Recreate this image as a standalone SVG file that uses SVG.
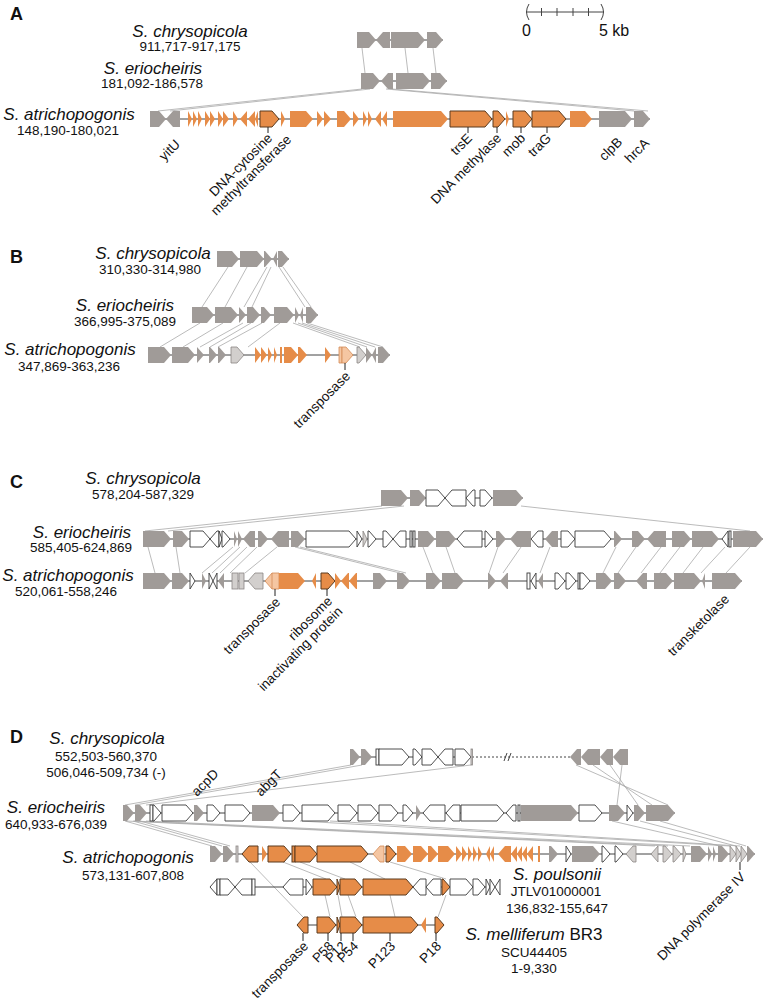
<svg xmlns="http://www.w3.org/2000/svg" width="766" height="1000" viewBox="0 0 766 1000">
<style>
text{font-family:"Liberation Sans",Arial,sans-serif;fill:#111}
.g{fill:#a09b98}
.o{fill:#e68c48}
.oo{fill:#e68c48;stroke:#5a3a1e;stroke-width:1}
.lo{fill:#f5c6a2;stroke:#d38a55;stroke-width:.8}
.lg{fill:#d2cfcd;stroke:#8a8684;stroke-width:.8}
.w{fill:#fff;stroke:#3a3a3a;stroke-width:.9}
.bb{stroke:#444;stroke-width:1;fill:none}
.cn{stroke:#a9a9a9;stroke-width:.8;fill:none}
.tk{stroke:#222;stroke-width:1}
.sp{font-style:italic;font-size:17px;text-anchor:middle}
.nm{font-size:13.5px;text-anchor:middle}
.lb{font-size:13.5px;text-anchor:end}
.pl{font-weight:bold;font-size:18px}
</style>
<rect width="766" height="1000" fill="#fff"/>

<g id="connectors">
<line class="cn" x1="362" y1="48" x2="365" y2="73"/>
<line class="cn" x1="405" y1="48" x2="408" y2="73"/>
<line class="cn" x1="433" y1="48" x2="436" y2="73"/>
<line class="cn" x1="362" y1="89" x2="158" y2="111"/>
<line class="cn" x1="370" y1="89" x2="170" y2="111"/>
<line class="cn" x1="386" y1="89" x2="634" y2="111"/>
<line class="cn" x1="392" y1="89" x2="648" y2="111"/>

<line class="cn" x1="228" y1="267" x2="202" y2="307"/>
<line class="cn" x1="247" y1="267" x2="225" y2="307"/>
<line class="cn" x1="267" y1="267" x2="244" y2="307"/>
<line class="cn" x1="271" y1="267" x2="252" y2="307"/>
<line class="cn" x1="279" y1="267" x2="305" y2="307"/>
<line class="cn" x1="283" y1="267" x2="311" y2="307"/>
<line class="cn" x1="200" y1="323" x2="160" y2="347"/>
<line class="cn" x1="223" y1="323" x2="183" y2="347"/>
<line class="cn" x1="243" y1="323" x2="200" y2="347"/>
<line class="cn" x1="251" y1="323" x2="210" y2="347"/>
<line class="cn" x1="262" y1="323" x2="218" y2="347"/>
<line class="cn" x1="280" y1="323" x2="248" y2="347"/>
<line class="cn" x1="293" y1="323" x2="360" y2="347"/>
<line class="cn" x1="298" y1="323" x2="367" y2="347"/>
<line class="cn" x1="302" y1="323" x2="375" y2="347"/>
<line class="cn" x1="307" y1="323" x2="383" y2="347"/>

<line class="cn" x1="382" y1="506" x2="145" y2="531"/>
<line class="cn" x1="404" y1="506" x2="168" y2="531"/>
<line class="cn" x1="521" y1="506" x2="750" y2="531"/>
<line class="cn" x1="148" y1="547" x2="155" y2="573"/>
<line class="cn" x1="176" y1="547" x2="180" y2="573"/>
<line class="cn" x1="233" y1="547" x2="202" y2="573"/>
<line class="cn" x1="240" y1="547" x2="212" y2="573"/>
<line class="cn" x1="247" y1="547" x2="220" y2="573"/>
<line class="cn" x1="257" y1="547" x2="230" y2="573"/>
<line class="cn" x1="277" y1="547" x2="245" y2="573"/>
<line class="cn" x1="295" y1="547" x2="400" y2="573"/>
<line class="cn" x1="300" y1="547" x2="406" y2="573"/>
<line class="cn" x1="423" y1="547" x2="433" y2="573"/>
<line class="cn" x1="446" y1="547" x2="455" y2="573"/>
<line class="cn" x1="498" y1="547" x2="489" y2="573"/>
<line class="cn" x1="521" y1="547" x2="503" y2="573"/>
<line class="cn" x1="550" y1="547" x2="540" y2="573"/>
<line class="cn" x1="616" y1="547" x2="603" y2="573"/>
<line class="cn" x1="636" y1="547" x2="618" y2="573"/>
<line class="cn" x1="661" y1="547" x2="641" y2="573"/>
<line class="cn" x1="680" y1="547" x2="660" y2="573"/>
<line class="cn" x1="703" y1="547" x2="683" y2="573"/>
<line class="cn" x1="725" y1="547" x2="701" y2="573"/>
<line class="cn" x1="750" y1="547" x2="726" y2="573"/>

<line class="cn" x1="351" y1="765" x2="125" y2="805"/>
<line class="cn" x1="362" y1="765" x2="135" y2="805"/>
<line class="cn" x1="471" y1="765" x2="146" y2="805"/>
<line class="cn" x1="576" y1="765" x2="668" y2="805"/>
<line class="cn" x1="593" y1="765" x2="652" y2="805"/>
<line class="cn" x1="610" y1="765" x2="638" y2="805"/>
<line class="cn" x1="622" y1="765" x2="617" y2="805"/>
<line class="cn" x1="125" y1="821" x2="212" y2="846"/>
<line class="cn" x1="133" y1="821" x2="222" y2="846"/>
<line class="cn" x1="140" y1="821" x2="230" y2="846"/>
<line class="cn" x1="126" y1="821" x2="655" y2="846"/>
<line class="cn" x1="134" y1="821" x2="668" y2="846"/>
<line class="cn" x1="146" y1="821" x2="690" y2="846"/>
<line class="cn" x1="300" y1="821" x2="730" y2="846"/>
<line class="cn" x1="330" y1="821" x2="740" y2="846"/>
<line class="cn" x1="612" y1="821" x2="720" y2="846"/>
<line class="cn" x1="640" y1="821" x2="736" y2="846"/>
<line class="cn" x1="660" y1="821" x2="746" y2="846"/>
<line class="cn" x1="250" y1="862" x2="303" y2="917"/>
<line class="cn" x1="283" y1="862" x2="326" y2="879"/>
<line class="cn" x1="300" y1="862" x2="345" y2="879"/>
<line class="cn" x1="350" y1="862" x2="385" y2="879"/>
<line class="cn" x1="390" y1="862" x2="446" y2="879"/>
<line class="cn" x1="325" y1="895" x2="330" y2="917"/>
<line class="cn" x1="338" y1="895" x2="342" y2="917"/>
<line class="cn" x1="348" y1="895" x2="356" y2="917"/>
<line class="cn" x1="390" y1="895" x2="395" y2="917"/>
<line class="cn" x1="446" y1="895" x2="438" y2="917"/>
</g>

<g id="scalebar">
<line class="bb" x1="526" y1="12" x2="604" y2="12"/>
<path class="bb" d="M529,4 Q524,12 529,20 M601,4 Q606,12 601,20 M541.5,8 V16 M557,8 V16 M573,8 V16 M588.5,8 V16"/>
<text x="526.5" y="36" style="font-size:16px;text-anchor:middle">0</text>
<text x="599" y="36" style="font-size:16px">5 kb</text>
</g>

<g id="panelA">
<text class="pl" x="10" y="20">A</text>
<text class="sp" x="190" y="37">S. chrysopicola</text>
<text class="nm" x="190" y="51">911,717-917,175</text>
<text class="sp" x="153" y="74">S. eriocheiris</text>
<text class="nm" x="152" y="88">181,092-186,578</text>
<text class="sp" x="69" y="120">S. atrichopogonis</text>
<text class="nm" x="68" y="134.5">148,190-180,021</text>
<g id="A-chry" transform="translate(0,32)">
<line class="bb" x1="357" y1="8" x2="443" y2="8"/>
<polygon class="g" points="357,0 369,0 376,8 369,16 357,16"/>
<polygon class="g" points="376,8 383,0 390,0 390,16 383,16"/>
<polygon class="g" points="391,0 418,0 425,8 418,16 391,16"/>
<polygon class="g" points="427,0 436,0 443,8 436,16 427,16"/>
</g>
<g id="A-erio" transform="translate(0,73)">
<line class="bb" x1="361" y1="8" x2="447" y2="8"/>
<polygon class="g" points="361,0 373,0 380,8 373,16 361,16"/>
<polygon class="g" points="381,8 388,0 393,0 393,16 388,16"/>
<polygon class="g" points="396,0 423,0 430,8 423,16 396,16"/>
<polygon class="g" points="431,0 440,0 447,8 440,16 431,16"/>
</g>
<g id="A-atri" transform="translate(0,111)">
<line class="bb" x1="150" y1="8" x2="650" y2="8"/>
<polygon class="g" points="150,0 159,0 166,8 159,16 150,16"/>
<polygon class="g" points="166,8 173,0 180,0 180,16 173,16"/>
<polygon class="o" points="188,0 192,8 188,16"/>
<polygon class="o" points="193,0 197,8 193,16"/>
<polygon class="o" points="198,0 202,8 198,16"/>
<polygon class="o" points="205,0 210,8 205,16"/>
<polygon class="o" points="210,0 215,8 210,16"/>
<polygon class="o" points="218,0 223,8 218,16"/>
<polygon class="o" points="223,0 229,8 223,16"/>
<polygon class="o" points="233,0 238,8 233,16"/>
<polygon class="o" points="240,8 247,0 247,16"/>
<polygon class="o" points="248,8 255,0 255,16"/>
<polygon class="o" points="255,8 258,0 258,16"/>
<polygon class="oo" points="260,0 272,0 279,8 272,16 260,16"/>
<polygon class="o" points="281,0 285,8 281,16"/>
<polygon class="o" points="290,0 306,0 313,8 306,16 290,16"/>
<polygon class="o" points="317,0 323,8 317,16"/>
<polygon class="o" points="324,0 331,8 324,16"/>
<polygon class="o" points="337,0 344,0 351,8 344,16 337,16"/>
<polygon class="o" points="353,0 359,8 353,16"/>
<polygon class="o" points="363,0 367,8 363,16"/>
<polygon class="o" points="368,0 372,8 368,16"/>
<polygon class="o" points="375,8 381,0 381,16"/>
<polygon class="o" points="382,8 387,0 387,16"/>
<polygon class="o" points="393,0 441,0 448,8 441,16 393,16"/>
<polygon class="oo" points="450,0 485,0 492,8 485,16 450,16"/>
<polygon class="oo" points="493,0 498,0 505,8 498,16 493,16"/>
<polygon class="o" points="506,0 509,8 506,16"/>
<polygon class="oo" points="513,0 525,0 532,8 525,16 513,16"/>
<polygon class="oo" points="532,0 559,0 566,8 559,16 532,16"/>
<polygon class="o" points="570,0 585,0 592,8 585,16 570,16"/>
<polygon class="g" points="599,0 625,0 632,8 625,16 599,16"/>
<polygon class="g" points="634,0 643,0 650,8 643,16 634,16"/>
<path class="tk" d="M268,16 V22 M468,16 V22 M497,16 V22 M521,16 V22 M547,16 V22"/>
</g>
<text class="lb" transform="translate(181,145) rotate(-45)">yitU</text>
<text class="lb" transform="translate(273,139) rotate(-45)"><tspan x="0" y="0">DNA-cytosine</tspan><tspan x="12.5" y="14.5">methyltransferase</tspan></text>
<text class="lb" transform="translate(473,139) rotate(-45)">trsE</text>
<text class="lb" transform="translate(502,139) rotate(-45)">DNA methylase</text>
<text class="lb" transform="translate(526,139) rotate(-45)">mob</text>
<text class="lb" transform="translate(552,139) rotate(-45)">traG</text>
<text class="lb" transform="translate(623,143) rotate(-45)">clpB</text>
<text class="lb" transform="translate(650,144) rotate(-45)">hrcA</text>
</g>

<g id="panelB">
<text class="pl" x="10" y="263">B</text>
<text class="sp" x="153" y="259">S. chrysopicola</text>
<text class="nm" x="150" y="274">310,330-314,980</text>
<text class="sp" x="125" y="311">S. eriocheiris</text>
<text class="nm" x="125" y="326">366,995-375,089</text>
<text class="sp" x="70" y="355">S. atrichopogonis</text>
<text class="nm" x="69" y="371">347,869-363,236</text>
<g id="B-chry" transform="translate(0,251)">
<line class="bb" x1="217" y1="8" x2="289" y2="8"/>
<polygon class="g" points="217,0 232,0 239,8 232,16 217,16"/>
<polygon class="g" points="240,0 257,0 264,8 257,16 240,16"/>
<polygon class="g" points="264,0 265,0 272,8 265,16 264,16"/>
<polygon class="g" points="273,8 277,0 277,16"/>
<polygon class="g" points="278,0 282,0 289,8 282,16 278,16"/>
</g>
<g id="B-erio" transform="translate(0,307)">
<line class="bb" x1="192" y1="8" x2="318" y2="8"/>
<polygon class="g" points="192,0 207,0 214,8 207,16 192,16"/>
<polygon class="g" points="215,0 231,0 238,8 231,16 215,16"/>
<polygon class="g" points="239,0 246,8 239,16"/>
<polygon class="g" points="247,0 253,0 260,8 253,16 247,16"/>
<polygon class="g" points="261,0 264,0 271,8 264,16 261,16"/>
<polygon class="g" points="274,0 287,0 294,8 287,16 274,16"/>
<polygon class="g" points="295,0 299,8 295,16"/>
<polygon class="g" points="300,8 303,0 303,16"/>
<polygon class="g" points="306,0 311,0 318,8 311,16 306,16"/>
</g>
<g id="B-atri" transform="translate(0,347)">
<line class="bb" x1="148" y1="8" x2="390" y2="8"/>
<polygon class="g" points="148,0 164,0 171,8 164,16 148,16"/>
<polygon class="g" points="172,0 188,0 195,8 188,16 172,16"/>
<polygon class="g" points="197,0 204,8 197,16"/>
<polygon class="g" points="209,0 210,0 217,8 210,16 209,16"/>
<polygon class="g" points="218,0 219,0 226,8 219,16 218,16"/>
<polygon class="lg" points="231,0 237,0 244,8 237,16 231,16"/>
<polygon class="o" points="255,0 261,8 255,16"/>
<polygon class="o" points="261,0 267,8 261,16"/>
<polygon class="o" points="268,0 272,8 268,16"/>
<polygon class="o" points="274,0 277,8 274,16"/>
<polygon class="o" points="280,0 282,0 282,16 280,16"/>
<polygon class="o" points="284,0 291,0 298,8 291,16 284,16"/>
<polygon class="o" points="298,0 300,0 307,8 300,16 298,16"/>
<polygon class="o" points="325,0 331,8 325,16"/>
<polygon class="lo" points="339,0 342,0 342,16 339,16"/>
<polygon class="lo" points="342,0 346,0 353,8 346,16 342,16"/>
<polygon class="lg" points="357,0 359,0 366,8 359,16 357,16"/>
<polygon class="g" points="366,0 372,8 366,16"/>
<polygon class="g" points="372,8 376,0 376,16"/>
<polygon class="g" points="378,0 383,0 390,8 383,16 378,16"/>
<path class="tk" d="M345,16 V23"/>
</g>
<text class="lb" transform="translate(351,377) rotate(-45)">transposase</text>
</g>

<g id="panelC">
<text class="pl" x="10" y="488">C</text>
<text class="sp" x="143" y="484">S. chrysopicola</text>
<text class="nm" x="143" y="499">578,204-587,329</text>
<text class="sp" x="82" y="538">S. eriocheiris</text>
<text class="nm" x="81" y="552">585,405-624,869</text>
<text class="sp" x="68" y="581">S. atrichopogonis</text>
<text class="nm" x="66" y="596">520,061-558,246</text>
<g id="C-chry" transform="translate(0,490)">
<line class="bb" x1="381" y1="8" x2="523" y2="8"/>
<polygon class="g" points="381,0 401,0 408,8 401,16 381,16"/>
<polygon class="g" points="410,0 419,0 426,8 419,16 410,16"/>
<polygon class="w" points="426,0 438,0 445,8 438,16 426,16"/>
<polygon class="w" points="445,8 452,0 466,0 466,16 452,16"/>
<polygon class="w" points="466,8 473,0 475,0 475,16 473,16"/>
<polygon class="w" points="480,0 485,0 492,8 485,16 480,16"/>
<polygon class="g" points="493,0 516,0 523,8 516,16 493,16"/>
</g>
<g id="C-erio" transform="translate(0,531)">
<line class="bb" x1="143" y1="8" x2="763" y2="8"/>
<polygon class="g" points="143,0 164,0 171,8 164,16 143,16"/>
<polygon class="g" points="173,0 182,0 189,8 182,16 173,16"/>
<polygon class="w" points="190,0 203,0 210,8 203,16 190,16"/>
<polygon class="w" points="210,8 217,0 219,0 219,16 217,16"/>
<polygon class="w" points="219,0 222,8 219,16"/>
<polygon class="w" points="222,0 223,0 230,8 223,16 222,16"/>
<polygon class="g" points="234,0 237,8 234,16"/>
<polygon class="g" points="238,0 242,8 238,16"/>
<polygon class="g" points="243,8 250,0 255,0 255,16 250,16"/>
<polygon class="g" points="258,0 261,0 268,8 261,16 258,16"/>
<polygon class="g" points="271,8 278,0 289,0 289,16 278,16"/>
<polygon class="g" points="291,0 298,0 305,8 298,16 291,16"/>
<polygon class="w" points="306,0 349,0 356,8 349,16 306,16"/>
<polygon class="w" points="357,0 362,8 357,16"/>
<polygon class="lg" points="363,0 367,8 363,16"/>
<polygon class="w" points="368,0 369,0 376,8 369,16 368,16"/>
<polygon class="w" points="383,0 386,0 393,8 386,16 383,16"/>
<polygon class="w" points="393,8 400,0 406,0 406,16 400,16"/>
<rect class="w" x="410" y="0" width="2" height="16"/>
<rect class="w" x="413" y="0" width="2" height="16"/>
<polygon class="g" points="418,0 428,0 435,8 428,16 418,16"/>
<polygon class="g" points="436,0 449,0 456,8 449,16 436,16"/>
<polygon class="w" points="457,8 464,0 482,0 482,16 464,16"/>
<polygon class="w" points="485,0 486,0 493,8 486,16 485,16"/>
<polygon class="g" points="496,0 499,0 506,8 499,16 496,16"/>
<polygon class="g" points="510,8 517,0 531,0 531,16 517,16"/>
<polygon class="w" points="531,8 538,0 543,0 543,16 538,16"/>
<polygon class="g" points="545,8 552,0 558,0 558,16 552,16"/>
<polygon class="w" points="561,0 568,0 575,8 568,16 561,16"/>
<polygon class="w" points="575,0 604,0 611,8 604,16 575,16"/>
<polygon class="g" points="614,0 615,0 622,8 615,16 614,16"/>
<polygon class="g" points="632,0 638,0 645,8 638,16 632,16"/>
<polygon class="g" points="647,8 654,0 666,0 666,16 654,16"/>
<polygon class="g" points="672,0 684,0 691,8 684,16 672,16"/>
<polygon class="g" points="692,0 712,0 719,8 712,16 692,16"/>
<polygon class="w" points="722,8 728,0 728,16"/>
<rect class="w" x="729" y="0" width="2" height="16"/>
<polygon class="g" points="733,0 756,0 763,8 756,16 733,16"/>
</g>
<g id="C-atri" transform="translate(0,573)">
<line class="bb" x1="143" y1="8" x2="742" y2="8"/>
<polygon class="g" points="143,0 164,0 171,8 164,16 143,16"/>
<polygon class="g" points="172,0 182,0 189,8 182,16 172,16"/>
<polygon class="w" points="190,0 195,8 190,16"/>
<polygon class="g" points="202,0 206,8 202,16"/>
<polygon class="w" points="209,0 213,8 209,16"/>
<polygon class="w" points="213,8 217,0 217,16"/>
<polygon class="g" points="218,8 224,0 224,16"/>
<rect class="lg" x="232" y="0" width="6" height="16"/>
<rect class="lg" x="239" y="0" width="5" height="16"/>
<polygon class="lg" points="248,8 255,0 263,0 263,16 255,16"/>
<polygon class="lo" points="265,8 272,0 279,0 279,16 272,16"/>
<line class="lo" x1="272" y1="0" x2="272" y2="16"/>
<polygon class="o" points="279,0 298,0 305,8 298,16 279,16"/>
<polygon class="o" points="312,8 316,0 316,16"/>
<polygon class="oo" points="321,0 328,0 335,8 328,16 321,16"/>
<polygon class="o" points="335,0 341,8 335,16"/>
<polygon class="o" points="341,8 348,0 349,0 349,16 348,16"/>
<polygon class="o" points="349,8 356,0 357,0 357,16 356,16"/>
<polygon class="g" points="373,0 380,0 387,8 380,16 373,16"/>
<polygon class="g" points="397,0 403,0 410,8 403,16 397,16"/>
<polygon class="g" points="426,0 434,0 441,8 434,16 426,16"/>
<polygon class="g" points="442,0 457,0 464,8 457,16 442,16"/>
<polygon class="g" points="488,0 489,0 496,8 489,16 488,16"/>
<polygon class="g" points="500,8 507,0 508,0 508,16 507,16"/>
<rect class="w" x="527" y="0" width="3" height="16"/>
<polygon class="w" points="531,8 536,0 536,16"/>
<polygon class="g" points="538,8 543,0 543,16"/>
<polygon class="w" points="555,0 558,0 565,8 558,16 555,16"/>
<polygon class="w" points="566,0 569,0 576,8 569,16 566,16"/>
<rect class="w" x="578" y="0" width="2" height="16"/>
<polygon class="w" points="580,0 583,0 590,8 583,16 580,16"/>
<polygon class="g" points="596,0 605,0 612,8 605,16 596,16"/>
<polygon class="g" points="614,0 619,0 626,8 619,16 614,16"/>
<polygon class="g" points="636,8 643,0 647,0 647,16 643,16"/>
<polygon class="g" points="654,0 666,0 673,8 666,16 654,16"/>
<polygon class="g" points="674,0 694,0 701,8 694,16 674,16"/>
<polygon class="g" points="702,8 705,0 705,16"/>
<polygon class="g" points="712,0 735,0 742,8 735,16 712,16"/>
<path class="tk" d="M275,16 V23 M327,16 V23"/>
</g>
<text class="lb" transform="translate(281,603) rotate(-45)">transposase</text>
<text class="lb" transform="translate(333,602) rotate(-45)"><tspan x="0" y="0">ribosome</tspan><tspan x="0" y="14.5">inactivating protein</tspan></text>
<text class="lb" transform="translate(730,600) rotate(-45)">transketolase</text>
</g>

<g id="panelD">
<text class="pl" x="10" y="743">D</text>
<text class="sp" x="107" y="744">S. chrysopicola</text>
<text class="nm" x="106" y="761">552,503-560,370</text>
<text class="nm" x="106" y="777">506,046-509,734 (-)</text>
<text class="sp" x="56" y="813">S. eriocheiris</text>
<text class="nm" x="56" y="829">640,933-676,039</text>
<text class="sp" x="128" y="863">S. atrichopogonis</text>
<text class="nm" x="133" y="880">573,131-607,808</text>
<text class="sp" x="557" y="880">S. poulsonii</text>
<text class="nm" x="556" y="896">JTLV01000001</text>
<text class="nm" x="557" y="913">136,832-155,647</text>
<text x="534" y="940" style="font-size:17px;text-anchor:middle"><tspan font-style="italic">S. melliferum</tspan> BR3</text>
<text class="nm" x="534" y="957">SCU44405</text>
<text class="nm" x="534" y="973">1-9,330</text>
<text style="font-size:13.5px" transform="translate(197,797) rotate(-45)">acpD</text>
<text style="font-size:13.5px" transform="translate(261,797) rotate(-45)">abgT</text>
<g id="D-chry" transform="translate(0,749)">
<line class="bb" x1="350" y1="8" x2="472" y2="8"/>
<line class="bb" x1="472" y1="8" x2="570" y2="8" stroke-dasharray="2,2"/>
<path class="bb" d="M504,12 L507,4 M508,12 L511,4"/>
<polygon class="g" points="350,0 353,0 360,8 353,16 350,16"/>
<polygon class="g" points="361,0 365,0 372,8 365,16 361,16"/>
<rect class="w" x="376" y="0" width="3" height="16"/>
<polygon class="w" points="379,0 402,0 409,8 402,16 379,16"/>
<polygon class="w" points="413,0 415,0 422,8 415,16 413,16"/>
<polygon class="w" points="422,0 431,0 438,8 431,16 422,16"/>
<polygon class="w" points="438,8 445,0 453,0 453,16 445,16"/>
<polygon class="w" points="455,0 464,0 471,8 464,16 455,16"/>
<rect class="lg" x="471" y="0" width="1.5" height="16"/>
<polygon class="g" points="570,8 577,0 581,0 581,16 577,16"/>
<polygon class="g" points="581,8 588,0 600,0 600,16 588,16"/>
<polygon class="g" points="600,8 607,0 613,0 613,16 607,16"/>
<polygon class="g" points="613,8 620,0 628,0 628,16 620,16"/>
</g>
<g id="D-erio" transform="translate(0,805)">
<line class="bb" x1="123" y1="8" x2="675" y2="8"/>
<polygon class="g" points="123,0 127,0 134,8 127,16 123,16"/>
<polygon class="g" points="135,0 140,0 147,8 140,16 135,16"/>
<rect class="w" x="150" y="0" width="3" height="16"/>
<polygon class="w" points="153,0 154,0 161,8 154,16 153,16"/>
<polygon class="w" points="162,0 186,0 193,8 186,16 162,16"/>
<polygon class="g" points="194,0 197,0 204,8 197,16 194,16"/>
<polygon class="w" points="207,0 213,0 220,8 213,16 207,16"/>
<polygon class="w" points="225,0 243,0 250,8 243,16 225,16"/>
<polygon class="g" points="252,0 273,0 280,8 273,16 252,16"/>
<polygon class="w" points="283,0 293,0 300,8 293,16 283,16"/>
<polygon class="w" points="302,0 328,0 335,8 328,16 302,16"/>
<polygon class="w" points="338,0 350,0 357,8 350,16 338,16"/>
<polygon class="w" points="358,0 371,0 378,8 371,16 358,16"/>
<polygon class="w" points="379,0 391,0 398,8 391,16 379,16"/>
<polygon class="w" points="403,0 406,0 413,8 406,16 403,16"/>
<polygon class="g" points="416,0 421,8 416,16"/>
<polygon class="w" points="423,8 430,0 445,0 445,16 430,16"/>
<polygon class="w" points="446,8 453,0 460,0 460,16 453,16"/>
<polygon class="w" points="461,0 497,0 504,8 497,16 461,16"/>
<polygon class="w" points="506,8 513,0 516,0 516,16 513,16"/>
<rect class="w" x="518" y="0" width="2" height="16"/>
<polygon class="g" points="521,0 571,0 578,8 571,16 521,16"/>
<polygon class="w" points="579,0 595,0 602,8 595,16 579,16"/>
<polygon class="g" points="609,0 618,0 625,8 618,16 609,16"/>
<polygon class="w" points="627,0 633,8 627,16"/>
<polygon class="g" points="634,0 638,0 645,8 638,16 634,16"/>
<polygon class="g" points="646,0 668,0 675,8 668,16 646,16"/>
</g>
<g id="D-atri" transform="translate(0,846)">
<line class="bb" x1="210" y1="8" x2="755" y2="8"/>
<polygon class="g" points="210,0 215,0 222,8 215,16 210,16"/>
<polygon class="g" points="223,0 227,0 234,8 227,16 223,16"/>
<rect class="lg" x="236" y="0" width="2" height="16"/>
<polygon class="oo" points="242,8 249,0 258,0 258,16 249,16"/>
<polygon class="o" points="262,0 267,8 262,16"/>
<polygon class="oo" points="268,0 284,0 291,8 284,16 268,16"/>
<rect class="oo" x="292" y="0" width="3" height="16"/>
<polygon class="oo" points="295,0 310,0 317,8 310,16 295,16"/>
<polygon class="oo" points="317,0 361,0 368,8 361,16 317,16"/>
<polygon class="lo" points="373,8 380,0 384,0 384,16 380,16"/>
<polygon class="oo" points="386,0 389,0 396,8 389,16 386,16"/>
<polygon class="o" points="397,0 405,0 412,8 405,16 397,16"/>
<polygon class="o" points="413,0 421,0 428,8 421,16 413,16"/>
<polygon class="o" points="428,0 431,0 438,8 431,16 428,16"/>
<polygon class="o" points="438,0 448,0 455,8 448,16 438,16"/>
<polygon class="o" points="456,0 462,8 456,16"/>
<polygon class="o" points="462,0 467,8 462,16"/>
<polygon class="o" points="468,0 472,8 468,16"/>
<polygon class="o" points="473,0 477,8 473,16"/>
<polygon class="o" points="478,0 482,8 478,16"/>
<polygon class="o" points="486,8 490,0 490,16"/>
<polygon class="o" points="490,8 494,0 494,16"/>
<polygon class="o" points="498,8 505,0 511,0 511,16 505,16"/>
<polygon class="o" points="511,8 517,0 517,16"/>
<polygon class="o" points="517,8 522,0 522,16"/>
<polygon class="o" points="522,8 527,0 527,16"/>
<polygon class="o" points="527,8 533,0 533,16"/>
<rect class="o" x="538" y="0" width="2" height="16"/>
<polygon class="g" points="549,0 551,0 558,8 551,16 549,16"/>
<polygon class="w" points="566,0 571,8 566,16"/>
<polygon class="g" points="572,0 593,0 600,8 593,16 572,16"/>
<polygon class="w" points="602,0 603,0 610,8 603,16 602,16"/>
<polygon class="w" points="615,0 616,0 623,8 616,16 615,16"/>
<polygon class="lg" points="626,8 633,0 636,0 636,16 633,16"/>
<polygon class="lg" points="651,8 658,0 658,16"/>
<polygon class="lg" points="663,0 665,0 672,8 665,16 663,16"/>
<polygon class="lg" points="673,0 674,0 681,8 674,16 673,16"/>
<polygon class="lg" points="683,0 686,8 683,16"/>
<polygon class="g" points="691,0 700,0 707,8 700,16 691,16"/>
<polygon class="g" points="708,0 712,8 708,16"/>
<polygon class="g" points="713,0 716,8 713,16"/>
<polygon class="g" points="718,0 722,0 729,8 722,16 718,16"/>
<polygon class="lg" points="730,0 736,8 730,16"/>
<polygon class="lg" points="736,0 741,8 736,16"/>
<polygon class="lg" points="741,0 747,8 741,16"/>
<polygon class="g" points="747,0 748,0 755,8 748,16 747,16"/>
<path class="tk" d="M740,16 V24"/>
</g>
<text class="lb" transform="translate(746,878) rotate(-45)">DNA polymerase IV</text>
<g id="D-poul" transform="translate(0,879)">
<line class="bb" x1="210" y1="8" x2="500" y2="8"/>
<polygon class="w" points="210,8 217,0 217,16"/>
<rect class="w" x="217" y="0" width="3" height="16"/>
<polygon class="w" points="220,0 228,0 235,8 228,16 220,16"/>
<polygon class="w" points="235,8 242,0 252,0 252,16 242,16"/>
<rect class="w" x="252" y="0" width="3" height="16"/>
<polygon class="w" points="283,8 290,0 303,0 303,16 290,16"/>
<polygon class="w" points="306,0 312,8 306,16"/>
<polygon class="oo" points="313,0 330,0 337,8 330,16 313,16"/>
<polygon class="oo" points="337,0 340,8 337,16"/>
<polygon class="oo" points="340,0 355,0 362,8 355,16 340,16"/>
<polygon class="oo" points="363,0 406,0 413,8 406,16 363,16"/>
<polygon class="w" points="413,8 420,0 426,0 426,16 420,16"/>
<polygon class="w" points="426,8 433,0 441,0 441,16 433,16"/>
<polygon class="oo" points="442,0 443,0 450,8 443,16 442,16"/>
<polygon class="w" points="450,0 466,0 473,8 466,16 450,16"/>
<polygon class="w" points="473,0 478,0 485,8 478,16 473,16"/>
<polygon class="w" points="486,0 490,8 486,16"/>
<polygon class="w" points="490,0 495,8 490,16"/>
<polygon class="w" points="495,8 500,0 500,16"/>
</g>
<g id="D-mell" transform="translate(0,917)">
<line class="bb" x1="297" y1="8" x2="444" y2="8"/>
<polygon class="oo" points="297,8 304,0 308,0 308,16 304,16"/>
<polygon class="oo" points="317,0 329,0 336,8 329,16 317,16"/>
<polygon class="oo" points="337,0 340,8 337,16"/>
<polygon class="oo" points="340,0 355,0 362,8 355,16 340,16"/>
<polygon class="oo" points="363,0 411,0 418,8 411,16 363,16"/>
<polygon class="o" points="421,8 426,0 426,16"/>
<polygon class="oo" points="435,0 437,0 444,8 437,16 435,16"/>
<path class="tk" d="M303,16 V24 M328,16 V24 M341,16 V24 M353,16 V24 M390,16 V24 M436,16 V24"/>
</g>
<text class="lb" transform="translate(309,947) rotate(-45)">transposase</text>
<text class="lb" style="font-size:13px" transform="translate(334,947) rotate(-45)">P58</text>
<text class="lb" style="font-size:13px" transform="translate(347,947) rotate(-45)">P12</text>
<text class="lb" style="font-size:13px" transform="translate(359,947) rotate(-45)">P54</text>
<text class="lb" transform="translate(396,947) rotate(-45)">P123</text>
<text class="lb" transform="translate(442,947) rotate(-45)">P18</text>
</g>
</svg>
